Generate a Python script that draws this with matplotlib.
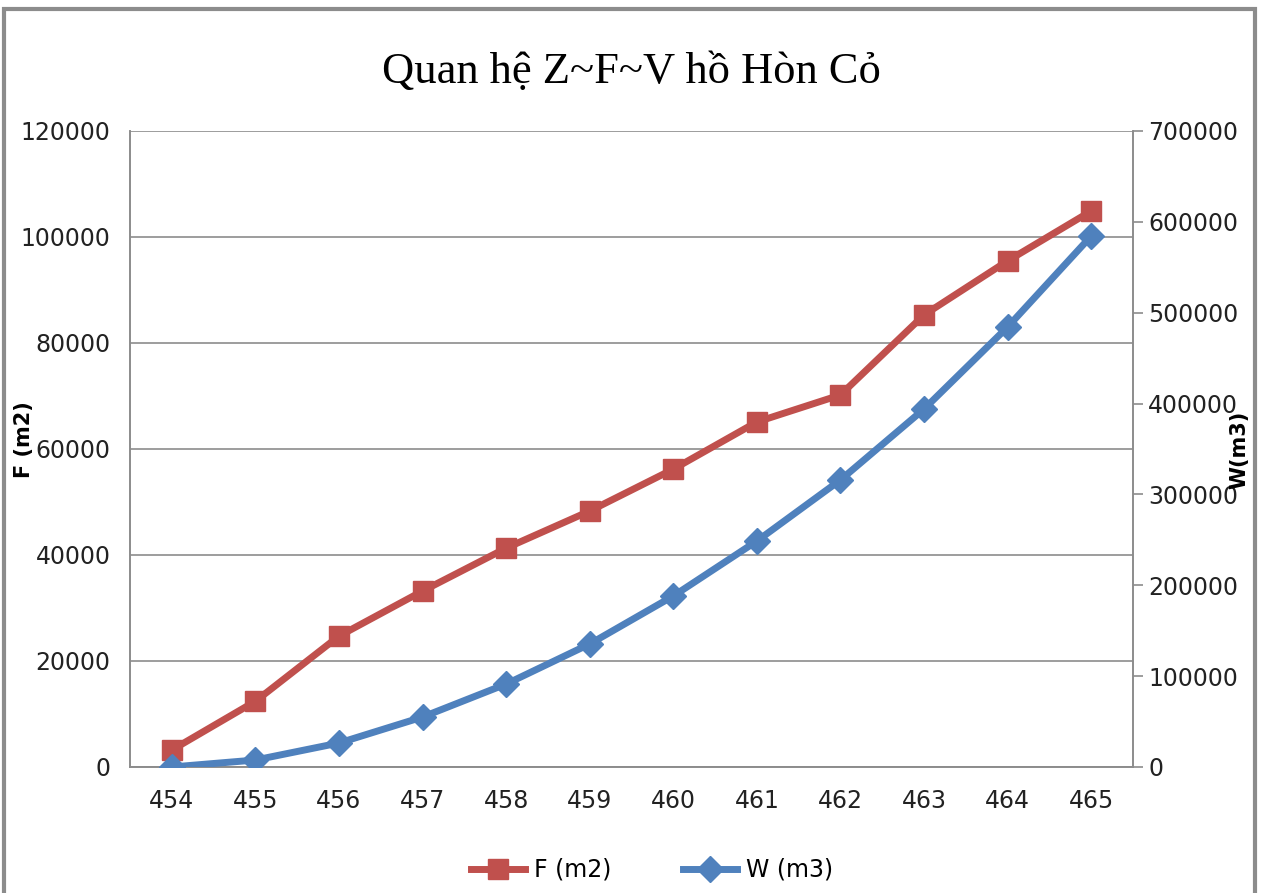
import matplotlib
matplotlib.use("Agg")
import matplotlib.pyplot as plt
from matplotlib.patches import Rectangle
from matplotlib.lines import Line2D

levels = ["454", "455", "456", "457", "458", "459", "460", "461", "462", "463", "464", "465"]
F_m2 = [3200, 12400, 24700, 33200, 41300, 48300, 56200, 65100, 70200, 85300, 95500, 104900]
W_m3 = [0, 7700, 26400, 55000, 91300, 135400, 188200, 248700, 315900, 394000, 484300, 584400]

red = "#C0504D"
blue = "#4F81BD"
narrow = ["Liberation Sans Narrow", "DejaVu Sans Condensed", "DejaVu Sans"]

fig = plt.figure(figsize=(12.63, 8.93), dpi=100)
fig.patches.append(Rectangle((0.003, -0.05), 0.991, 1.04, transform=fig.transFigure,
                             fill=False, edgecolor="#8C8C8C", linewidth=3))

ax = fig.add_axes([130/1263, 1-767/893, (1133-130)/1263, (767-131)/893])
ax2 = ax.twinx()

x = list(range(len(levels)))
ax.plot(x, F_m2, color=red, lw=5, marker="s", markersize=15, zorder=3)
ax2.plot(x, W_m3, color=blue, lw=5, marker="D", markersize=13, zorder=3)

ax.set_xlim(-0.5, len(levels) - 0.5)
ax.set_ylim(0, 120000)
ax2.set_ylim(0, 700000)
ax.set_yticks(range(0, 120001, 20000))
ax2.set_yticks(range(0, 700001, 100000))
ax.set_xticks(x)
ax.set_xticklabels(levels)
ax.grid(axis="y", color="#8C8C8C", lw=1.2)
ax.set_axisbelow(True)

for a in (ax, ax2):
    for s in a.spines.values():
        s.set_color("#8C8C8C")
        s.set_linewidth(1.2)
    a.spines["top"].set_visible(False)
ax.tick_params(axis="x", length=0, pad=16)
ax.tick_params(axis="y", length=0, pad=14)
ax2.tick_params(axis="y", length=7, width=1.2, color="#8C8C8C", pad=4)
for lab in ax.get_xticklabels() + ax.get_yticklabels() + ax2.get_yticklabels():
    lab.set_fontfamily(narrow)
    lab.set_fontsize(17)
    lab.set_color("#222222")

fig.text(24/1263, 1-440/893, "F (m2)", rotation=90, ha="center", va="center",
         fontsize=15, fontweight="bold", family=narrow)
fig.text(1239/1263, 1-450/893, "W(m3)", rotation=90, ha="center", va="center",
         fontsize=15, fontweight="bold", family=narrow)

fig.text(0.5, 1-72/893, "Quan hệ Z~F~V hồ Hòn Cỏ", ha="center", va="center",
         fontsize=32, family=["Liberation Serif", "DejaVu Serif"])

handles = [Line2D([], [], color=red, lw=5, marker="s", markersize=15),
           Line2D([], [], color=blue, lw=5, marker="D", markersize=13)]
leg = fig.legend(handles, ["F (m2)", "W (m3)"], loc="center", bbox_to_anchor=(652/1263, 1-870/893),
                 ncol=2, frameon=False, handlelength=2.3, handletextpad=0.4, columnspacing=3.0,
                 prop={"family": narrow, "size": 17})

fig.savefig("out.png", dpi=100)
